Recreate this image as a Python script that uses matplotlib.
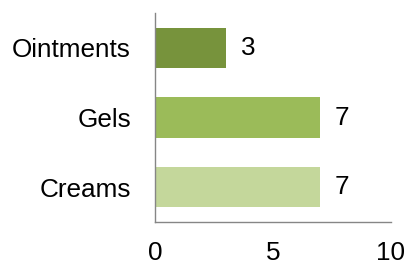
import matplotlib
matplotlib.use("Agg")
import matplotlib.pyplot as plt

categories = ["Creams", "Gels", "Ointments"]
values = [7, 7, 3]
colors = ["#C4D79B", "#9BBB59", "#77933C"]
xticks = [0, 5, 10]

plt.rcParams['font.family'] = ['Liberation Sans', 'DejaVu Sans']

fig = plt.figure(figsize=(4.08, 2.64), dpi=100)
ax = fig.add_axes([155.3/408, 1-222/264, (390.7-155.3)/408, (222-13)/264])
ax.barh(range(len(categories)), values, height=0.575, color=colors)
ax.set_xlim(0, 10)
ax.set_ylim(-0.5, 2.5)
ax.set_yticks(range(len(categories)))
ax.set_yticklabels(categories)
ax.set_xticks(xticks)
ax.tick_params(axis='both', length=0, labelsize=18.8, colors='black')
ax.tick_params(axis='x', pad=14)
ax.tick_params(axis='y', pad=17.5)
for s in ['top', 'right']:
    ax.spines[s].set_visible(False)
for s in ['left', 'bottom']:
    ax.spines[s].set_color('#868686')
    ax.spines[s].set_linewidth(1.0)
for i, v in enumerate(values):
    ax.annotate(str(v), (v, i), xytext=(10.5, 0), textcoords='offset points',
                va='center', ha='left', fontsize=18.8)
fig.savefig("out.png", dpi=100)
